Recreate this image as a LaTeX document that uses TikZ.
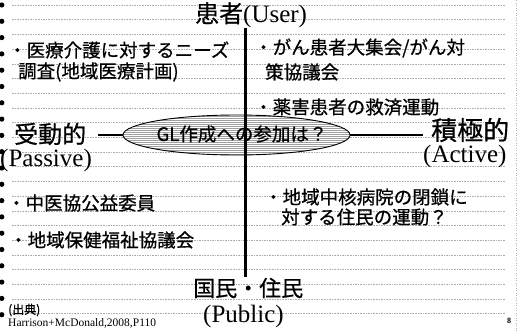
\documentclass[tikz,border=0pt]{standalone}
\usepackage{fontspec}
\usetikzlibrary{shapes.geometric}
\setmainfont{Liberation Serif}
\newfontfamily\jp[FakeBold=0.6]{Noto Sans CJK JP}
\begin{document}
\begin{tikzpicture}[x=1pt,y=-1pt,
  guide/.style={draw=gray!65, line width=0.5pt, dash pattern=on 1.6pt off 1pt},
  item/.style={anchor=west, inner sep=0pt, font=\jp\fontsize{18.5}{20}\selectfont},
  pole/.style={anchor=west, inner sep=0pt, font=\jp\fontsize{24}{26}\selectfont},
  latin/.style={anchor=west, inner sep=0pt, font=\fontsize{25}{27}\selectfont},
  axisline/.style={line width=2.6pt, black},
  note/.style={anchor=west, inner sep=0pt, font=\fontsize{11.5}{12}\selectfont}]
\useasboundingbox (0,0) rectangle (518,332);
\fill[white] (0,0) rectangle (518,332);
% ruled guide lines
\foreach \i in {0,...,21} {
  \draw[guide] (12,{5+14.7*\i}) -- (505,{5+14.7*\i});
}
% right dotted edge
\draw[gray!60, line width=0.5pt, dash pattern=on 1pt off 1.5pt] (516,0) -- (516,332);
% left binding dots
\foreach \i in {0,...,19} {
  \fill[black] (1.8,{5+16.3*\i}) circle (2.6);
}
% axes
\coordinate (hl) at (98,135);
\coordinate (hr) at (423,135);
\coordinate (vt) at (245.5,28);
\coordinate (vb) at (245.5,277);
\draw[axisline] (hl) -- (hr);
% ellipse with horizontal hatching
\node[ellipse, draw=black, line width=0.9pt, fill=gray!75, inner sep=0pt,
      minimum width=227pt, minimum height=40pt,
      path picture={
        \foreach \k in {0,...,22} {
          \draw[white, line width=0.8pt]
            ([yshift={-22pt+2*\k*1pt}]path picture bounding box.west) --
            ([yshift={-22pt+2*\k*1pt}]path picture bounding box.east);
        }
      }] (ell) at (236.5,135) {};
\node[inner sep=0pt, font=\jp\fontsize{18.5}{20}\selectfont, text=black] (gl) at (242,134) {GL作成への参加は？};
\draw[axisline, line width=2.4pt] (vt) -- (vb);
% pole labels
\node[anchor=west, inner sep=0pt] (user) at (195,15) {{\jp\fontsize{24}{26}\selectfont 患者}{\fontsize{25}{27}\selectfont (User)}};
\node[pole] (passiveJ) at (14,134) {受動的};
\node[latin] (passiveE) at (0,160) {(Passive)};
\node[pole, font=\jp\fontsize{26}{28}\selectfont] (activeJ) at (431,130) {積極的};
\node[latin] (activeE) at (423,156) {(Active)};
\node[anchor=west, inner sep=0pt, font=\jp\fontsize{22}{24}\selectfont] (publicJ) at (193,288) {国民・住民};
\node[latin] (publicE) at (203,316) {(Public)};
% items
\node[item] (i1a) at (8,50) {・医療介護に対するニーズ};
\node[item] (i1b) at (18,72) {調査(地域医療計画)};
\node[item] (i2a) at (254,48) {・がん患者大集会/がん対};
\node[item] (i2b) at (265,72) {策協議会};
\node[item] (i3) at (254,107) {・薬害患者の救済運動};
\node[item] (i4) at (7,203) {・中医協公益委員};
\node[item] (i5) at (9,240) {・地域保健福祉協議会};
\node[item] (i6a) at (264,197) {・地域中核病院の閉鎖に};
\node[item] (i6b) at (281,217) {対する住民の運動？};
% source
\node[anchor=west, inner sep=0pt, font=\jp\fontsize{12}{13}\selectfont] (src1) at (8,310) {(出典)};
\node[note] (src2) at (8,323) {Harrison+McDonald,2008,P110};
\node[inner sep=0pt, font=\bfseries\fontsize{8}{9}\selectfont] (pg) at (509,321) {8};
\end{tikzpicture}
\end{document}
